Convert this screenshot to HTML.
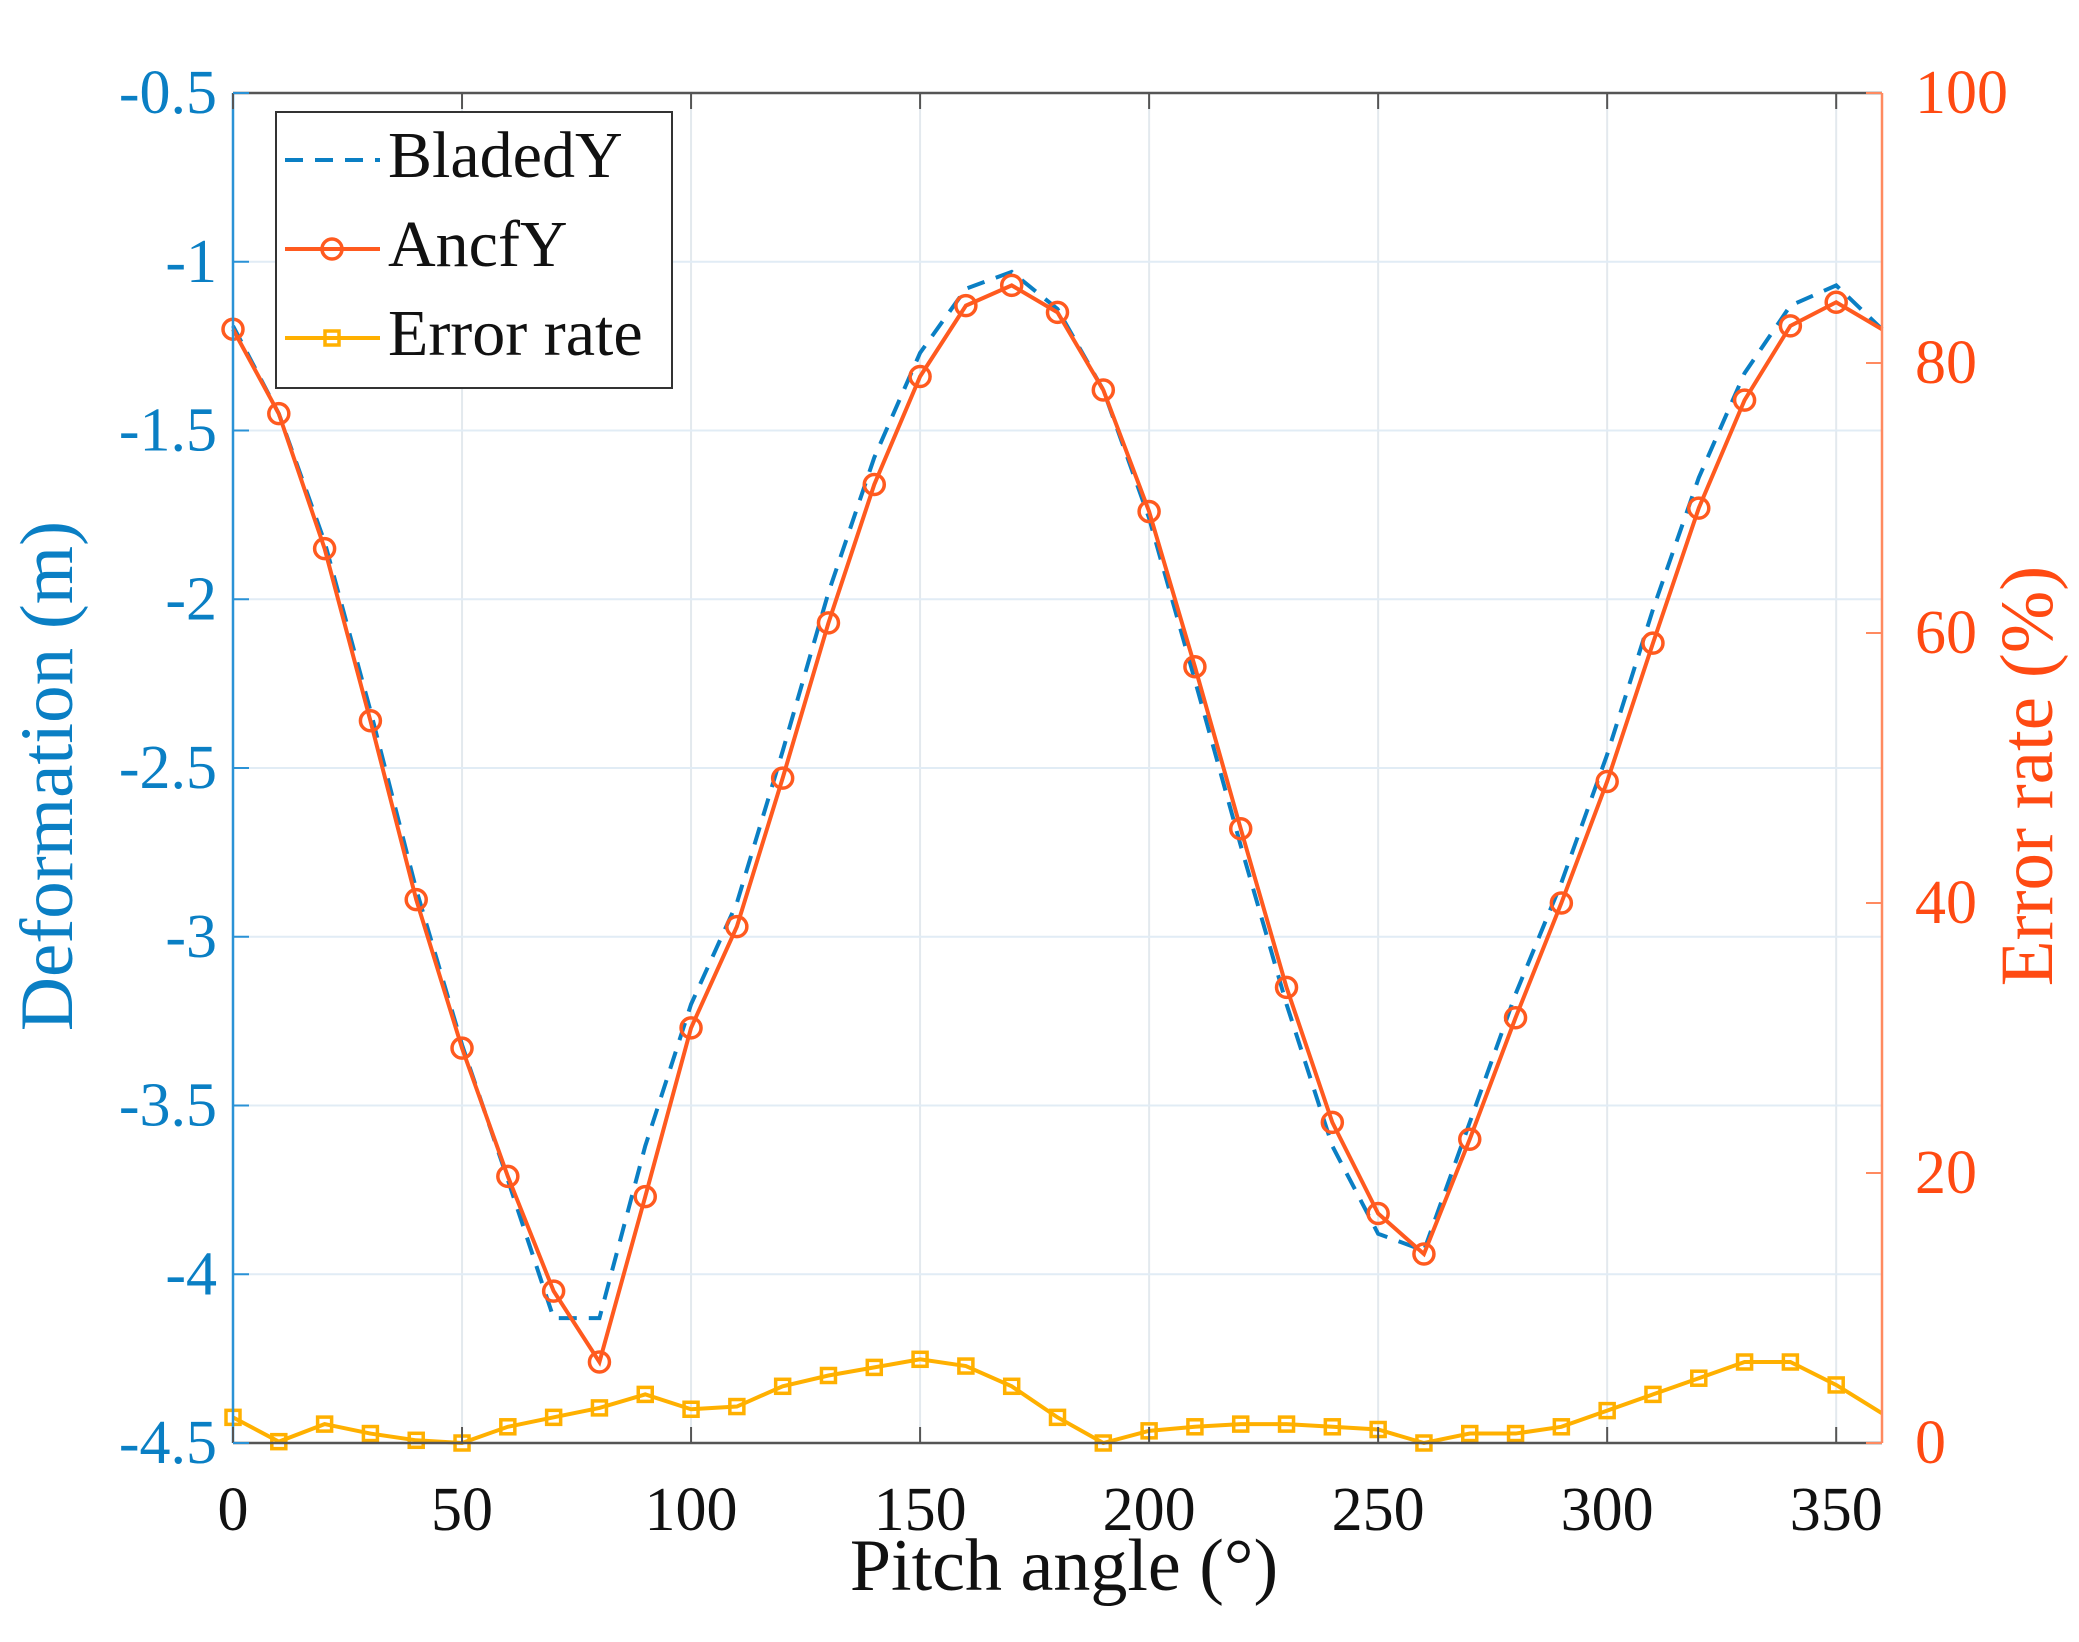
<!DOCTYPE html>
<html><head><meta charset="utf-8"><style>
body{margin:0;background:#fff}
svg{display:block}
text{font-family:"Liberation Serif",serif}
</style></head><body>
<svg id="chart" width="2079" height="1642" viewBox="0 0 2079 1642" xmlns="http://www.w3.org/2000/svg">
<g id="grid"></g>
<g id="series"></g>
<g id="axes"></g>
<text x="1064" y="1590" font-size="74" text-anchor="middle" fill="#111">Pitch angle (°)</text>
<text transform="translate(72,776) rotate(-90)" font-size="75" text-anchor="middle" fill="#0a7fc4">Deformation (m)</text>
<text transform="translate(2052,776) rotate(-90)" font-size="75" text-anchor="middle" fill="#ff4a12">Error rate (%)</text>
<g>
<rect x="276" y="112" width="396" height="276" fill="#fff" stroke="#333" stroke-width="2"/>
<line x1="285" y1="160" x2="380" y2="160" stroke="#0a7fc4" stroke-width="4" stroke-dasharray="18,12"/>
<text x="388" y="177" font-size="66" fill="#111">BladedY</text>
<line x1="285" y1="249" x2="380" y2="249" stroke="#ff5a1f" stroke-width="4"/>
<circle cx="332" cy="249" r="10" fill="none" stroke="#ff5a1f" stroke-width="3.5"/>
<text x="388" y="266" font-size="66" fill="#111">AncfY</text>
<line x1="285" y1="338" x2="380" y2="338" stroke="#ffb000" stroke-width="4"/>
<rect x="325" y="331" width="14" height="14" fill="none" stroke="#ffb000" stroke-width="3.5"/>
<text x="388" y="355" font-size="66" fill="#111">Error rate</text>
</g>
</svg>
<script>
const angles=[0,10,20,30,40,50,60,70,80,90,100,110,120,130,140,150,160,170,180,190,200,210,220,230,240,250,260,270,280,290,300,310,320,330,340,350,360];
const ancfY=[-1.20,-1.45,-1.85,-2.36,-2.89,-3.33,-3.71,-4.05,-4.26,-3.77,-3.27,-2.97,-2.53,-2.07,-1.66,-1.34,-1.13,-1.07,-1.15,-1.38,-1.74,-2.20,-2.68,-3.15,-3.55,-3.82,-3.94,-3.60,-3.24,-2.90,-2.54,-2.13,-1.73,-1.41,-1.19,-1.12,-1.20];
const bladedY=[-1.19,-1.45,-1.83,-2.33,-2.86,-3.32,-3.72,-4.13,-4.13,-3.62,-3.20,-2.90,-2.45,-1.98,-1.58,-1.27,-1.08,-1.03,-1.14,-1.38,-1.76,-2.24,-2.73,-3.20,-3.62,-3.88,-3.93,-3.55,-3.17,-2.84,-2.46,-2.03,-1.64,-1.33,-1.13,-1.07,-1.20];
const errorRate=[1.9,0.1,1.4,0.7,0.2,0,1.2,1.9,2.6,3.6,2.5,2.7,4.2,5.0,5.6,6.2,5.7,4.2,1.9,0,0.9,1.2,1.4,1.4,1.2,1.0,0,0.7,0.7,1.2,2.4,3.6,4.8,6.0,6.0,4.3,2.2];
const xTicks=[0,50,100,150,200,250,300,350];
const yLeftTicks=[-0.5,-1,-1.5,-2,-2.5,-3,-3.5,-4,-4.5];
const yRightTicks=[0,20,40,60,80,100];
const L=233,R=1882,T=93,B=1443;
const sx=v=>L+(v-0)/360*(R-L);
const syL=v=>T+(-0.5-v)/4*(B-T);
const syR=v=>B-v/100*(B-T);
const NS="http://www.w3.org/2000/svg";
function mk(parent,tag,attrs){const e=document.createElementNS(NS,tag);for(const k in attrs)e.setAttribute(k,attrs[k]);document.getElementById(parent).appendChild(e);return e;}
xTicks.forEach(t=>{const e=mk('grid','line',{x1:sx(t),x2:sx(t),y1:T,y2:B,stroke:'#e3e9ee','stroke-width':2});

});
yLeftTicks.forEach(t=>{const e=mk('grid','line',{x1:L,x2:R,y1:syL(t),y2:syL(t),stroke:'#e1ecf5','stroke-width':2});

});
function pts(xs,ys,f){return xs.map((x,i)=>sx(x)+','+f(ys[i])).join(' ');}
let e;
e=mk('series','polyline',{points:pts(angles,errorRate,syR),fill:'none',stroke:'#ffb000','stroke-width':4});


angles.slice(0,36).forEach((a,i)=>{const m=mk('series','rect',{x:sx(a)-7,y:syR(errorRate[i])-7,width:14,height:14,fill:'none',stroke:'#ffb000','stroke-width':3.5});

});
e=mk('series','polyline',{points:pts(angles,bladedY,syL),fill:'none',stroke:'#0a7fc4','stroke-width':4,'stroke-dasharray':'18,12'});


e=mk('series','polyline',{points:pts(angles,ancfY,syL),fill:'none',stroke:'#ff5a1f','stroke-width':4});


angles.slice(0,36).forEach((a,i)=>{const m=mk('series','circle',{cx:sx(a),cy:syL(ancfY[i]),r:10,fill:'none',stroke:'#ff5a1f','stroke-width':3.5});

});
e=mk('axes','line',{x1:L,x2:R,y1:T,y2:T,stroke:'#555','stroke-width':2.5});


e=mk('axes','line',{x1:L,x2:R,y1:B,y2:B,stroke:'#555','stroke-width':2.5});


e=mk('axes','line',{x1:L,x2:L,y1:T,y2:B,stroke:'#2a92d6','stroke-width':2.5});


e=mk('axes','line',{x1:R,x2:R,y1:T,y2:B,stroke:'#ff8a60','stroke-width':2.5});


xTicks.forEach(t=>{let m=mk('axes','line',{x1:sx(t),x2:sx(t),y1:B,y2:B-16,stroke:'#555','stroke-width':2});


m=mk('axes','line',{x1:sx(t),x2:sx(t),y1:T,y2:T+16,stroke:'#555','stroke-width':2});


const tx=mk('axes','text',{x:sx(t),y:1530,'font-size':62,'text-anchor':'middle',fill:'#111'});tx.textContent=t;

});
yLeftTicks.forEach(t=>{const m=mk('axes','line',{x1:L,x2:L+16,y1:syL(t),y2:syL(t),stroke:'#2a92d6','stroke-width':2});


const tx=mk('axes','text',{x:217,y:syL(t)+20,'font-size':62,'text-anchor':'end',fill:'#0a7fc4'});tx.textContent=t;

});
yRightTicks.forEach(t=>{const m=mk('axes','line',{x1:R,x2:R-16,y1:syR(t),y2:syR(t),stroke:'#ff8a60','stroke-width':2});


const tx=mk('axes','text',{x:1915,y:syR(t)+20,'font-size':62,'text-anchor':'start',fill:'#ff4a12'});tx.textContent=t;

});
</script>
</body></html>
